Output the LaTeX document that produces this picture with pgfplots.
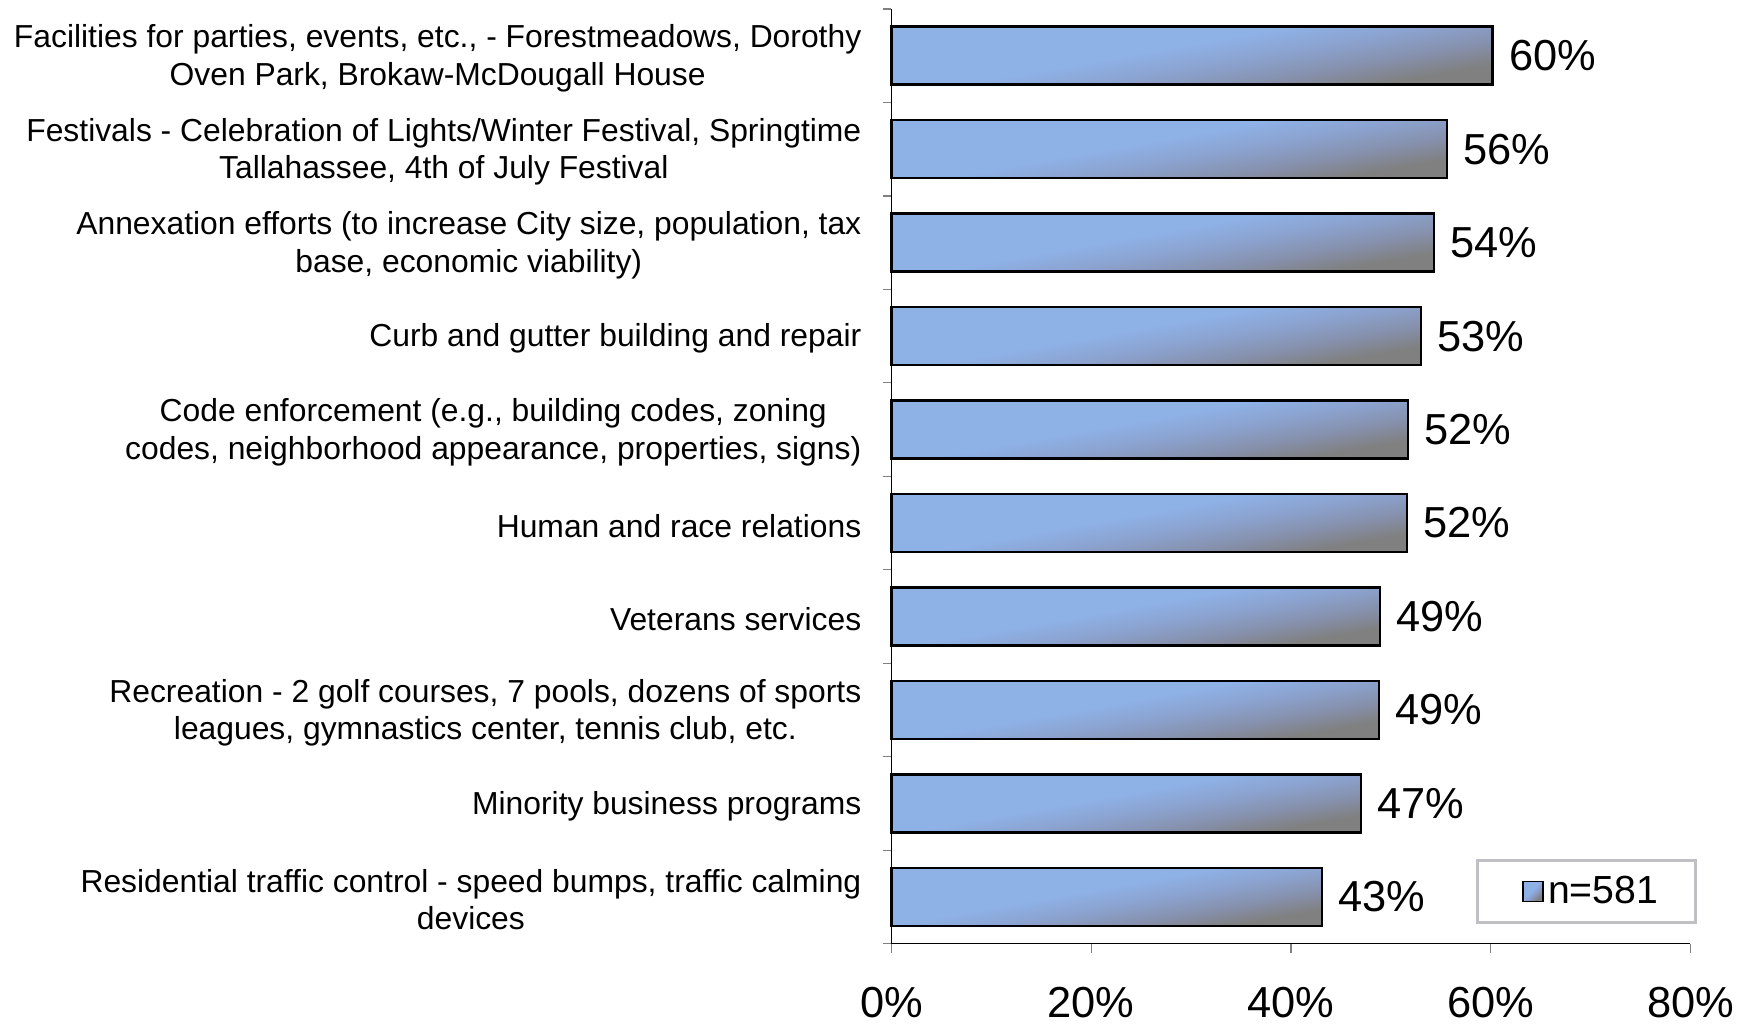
\documentclass[border=0pt]{standalone}
\usepackage{pgfplots}
\pgfplotsset{compat=1.18}
\usepackage{fontspec}
\setmainfont{Liberation Sans}
\definecolor{bblue}{RGB}{142,177,230}
\definecolor{bmidb}{RGB}{139,162,206}
\definecolor{bmida}{RGB}{134,144,172}
\definecolor{bgray}{RGB}{128,128,128}
\definecolor{legborder}{RGB}{191,191,196}
\pgfdeclareverticalshading{barshade}{100bp}{color(0bp)=(bgray); color(28bp)=(bgray); color(36bp)=(bmida); color(45bp)=(bmidb); color(54bp)=(bblue); color(100bp)=(bblue)}
\pgfplotsset{mybar/.style={draw=black, line width=1.1pt, shading=barshade, shading angle=10, bar shift=0pt, forget plot}}
\begin{document}
\begin{tikzpicture}
\begin{axis}[
  scale only axis,
  width=359pt, height=420pt,
  xbar, bar width=26pt,
  xmin=0, xmax=80,
  ymin=-0.5, ymax=9.5,
  axis x line*=bottom, axis y line*=left,
  axis line style={black, line width=0.6pt},
  xtick={0,20,40,60,80},
  xticklabels={0\%,20\%,40\%,60\%,80\%},
  xticklabel style={font=\fontsize{19.5}{22}\selectfont, inner sep=0pt, yshift=-15.3pt},
  ytick={0,...,9},
  yticklabels={
    {Residential traffic control - speed bumps, traffic calming\\devices},
    {Minority business programs},
    {Recreation - 2 golf courses, 7 pools, dozens of sports\\leagues, gymnastics center, tennis club, etc.},
    {Veterans services},
    {Human and race relations},
    {Code enforcement (e.g., building codes, zoning\\codes, neighborhood appearance, properties, signs)},
    {Curb and gutter building and repair},
    {Annexation efforts (to increase City size, population, tax\\base, economic viability)},
    {Festivals - Celebration of Lights/Winter Festival, Springtime\\Tallahassee, 4th of July Festival},
    {Facilities for parties, events, etc., - Forestmeadows, Dorothy\\Oven Park, Brokaw-McDougall House}},
  yticklabel style={align=center, font=\fontsize{14.3}{16.8}\selectfont, xshift=-6pt, yshift=-1.2pt},
  minor ytick={-0.5,0.5,...,9.5},
  major y tick style={draw=none},
  minor y tick style={gray, line width=0.6pt},
  x tick style={gray, line width=0.6pt},
  tick align=outside,
  major tick length=4pt, minor tick length=4pt,
  point meta=explicit symbolic,
  nodes near coords,
  nodes near coords align={horizontal},
  every node near coord/.append style={font=\fontsize{19.5}{22}\selectfont, text=black, anchor=west, xshift=3.5pt},
  legend style={at={(1.0088,0.021)}, anchor=south east, draw=legborder, line width=1.4pt,
    font=\fontsize{17.6}{20}\selectfont, inner xsep=15pt, inner ysep=5pt,
    legend cell align=left},
  legend image code/.code={
    \path (0pt,0pt);
    \draw[draw=black, line width=0.6pt, shading=barshade, shading angle=45] (5pt,-4.5pt) rectangle (14pt,4.5pt);},
  clip=false,
]
\addplot[mybar] coordinates {(43.1,0) [43\%]};
\addplot[mybar] coordinates {(47.0,1) [47\%]};
\addplot[mybar] coordinates {(48.8,2) [49\%]};
\addplot[mybar] coordinates {(48.9,3) [49\%]};
\addplot[mybar] coordinates {(51.6,4) [52\%]};
\addplot[mybar] coordinates {(51.7,5) [52\%]};
\addplot[mybar] coordinates {(53.0,6) [53\%]};
\addplot[mybar] coordinates {(54.3,7) [54\%]};
\addplot[mybar] coordinates {(55.6,8) [56\%]};
\addplot[mybar] coordinates {(60.2,9) [60\%]};
\addlegendimage{mybar}
\addlegendentry{n=581}
\end{axis}
\path ([xshift=-400.5pt,yshift=-36pt]current axis.south west) rectangle ([xshift=24.5pt,yshift=4pt]current axis.north east);
\end{tikzpicture}
\end{document}
